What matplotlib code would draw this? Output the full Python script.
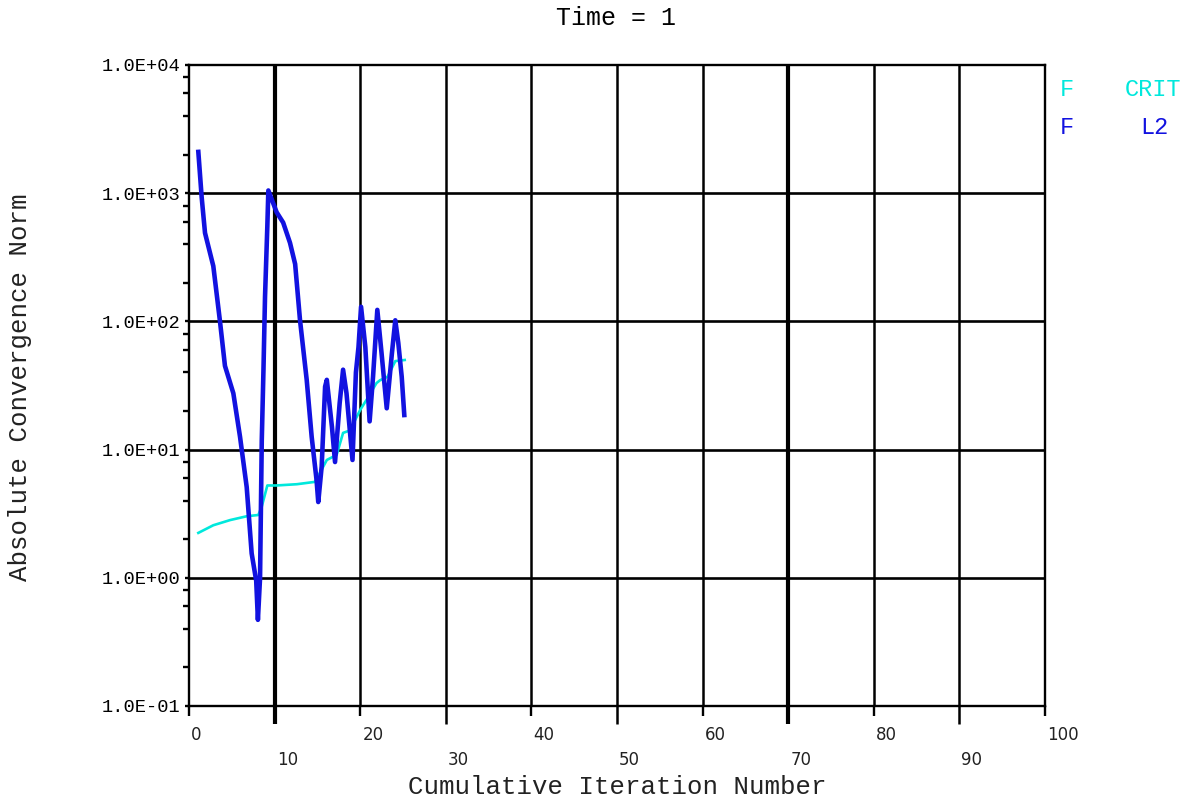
import matplotlib
matplotlib.use("Agg")
import matplotlib.pyplot as plt
from matplotlib.ticker import LogLocator, NullFormatter, FuncFormatter, FixedLocator

# Convergence history: F CRIT and F L2 against cumulative iteration number
crit_iter = [1.09, 2.84, 4.8, 6.74, 8.1, 8.5, 9.15, 10.2, 12.6, 14.7, 15.3, 16.1,
             17.25, 18.0, 18.8, 20.0, 20.75, 21.9, 22.3, 23.2, 24.1, 25.2]
crit_norm = [2.24, 2.57, 2.82, 3.02, 3.09, 3.59, 5.25, 5.25, 5.37, 5.6, 6.6, 8.3,
             9.1, 13.5, 14.1, 20.4, 24.5, 33.0, 34.7, 37.0, 49.0, 50.0]

l2_iter = [1.09, 1.48, 1.87, 2.84, 3.62, 4.2, 5.18, 5.96, 6.74, 7.32, 7.85, 8.05,
           8.3, 8.5, 8.7, 8.88, 9.15, 9.27, 10.24, 11.0, 11.8, 12.4, 12.97, 13.75,
           14.33, 14.9, 15.1, 15.5, 15.9, 16.1, 16.7, 17.06, 17.6, 18.0, 18.4, 19.1,
           19.5, 19.8, 20.1, 20.6, 21.1, 21.5, 22.0, 22.5, 23.1, 23.7, 24.1, 24.45,
           24.85, 25.15]
l2_norm = [2100, 930, 490, 270, 100, 45, 27.5, 12.6, 5.1, 1.55, 0.95, 0.47,
           1.0, 11.7, 42, 155, 550, 1050, 710, 590, 410, 280, 102, 35,
           12.6, 5.8, 3.9, 7.4, 31, 35, 15, 8.0, 23, 42, 27.5, 8.3,
           40, 63, 130, 63, 16.6, 37, 123, 56, 21, 56, 102, 68,
           37, 18.6]

x_ticks = [0, 10, 20, 30, 40, 50, 60, 70, 80, 90, 100]
heavy_x = [10, 70]
y_decades = [0.1, 1, 10, 100, 1000, 10000]

title_text = "Time = 1"
x_title = "Cumulative Iteration Number"
y_title = "Absolute Convergence Norm"
legend_rows = [("F", "CRIT"), ("F", "L2")]

CRIT_COLOR = "#00e8dc"
L2_COLOR = "#1212e0"
MONO = "Liberation Mono"

W, H = 1199, 800
fig = plt.figure(figsize=(W / 100, H / 100), dpi=100)
ax = fig.add_axes([189 / W, 1 - 706 / H, (1045 - 189) / W, (706 - 65) / H])

ax.set_yscale("log")
ax.set_xlim(0, 100)
ax.set_ylim(y_decades[0], y_decades[-1])

for s in ax.spines.values():
    s.set_linewidth(1.7)
    s.set_color("black")

# grid lines, a few of them drawn heavier
for xv in x_ticks[1:-1]:
    lw = 3.0 if xv in heavy_x else 1.8
    ax.axvline(xv, color="black", lw=lw, zorder=1)
for yv in y_decades[1:-1]:
    ax.axhline(yv, color="black", lw=1.9, zorder=1)

ax.plot(crit_iter, crit_norm, color=CRIT_COLOR, lw=1.9, zorder=3)
ax.plot(l2_iter, l2_norm, color=L2_COLOR, lw=3.3, zorder=4)

# y axis ticks
ax.yaxis.set_major_locator(FixedLocator(y_decades))
ax.yaxis.set_minor_locator(LogLocator(base=10, subs=(2, 4, 6, 8)))
ax.yaxis.set_minor_formatter(NullFormatter())
ax.yaxis.set_major_formatter(FuncFormatter(lambda v, p: f"{v:.1E}"))
ax.tick_params(axis="y", which="major", direction="out", length=3, width=1.7,
               pad=3, labelsize=13.5)
ax.tick_params(axis="y", which="minor", direction="out", length=4.5, width=1.7)
for lbl in ax.get_yticklabels():
    lbl.set_fontfamily(MONO)

# x axis ticks: longer ticks at odd tens, shorter at even tens
odd = [v for v in x_ticks if (v // 10) % 2 == 1]
even = [v for v in x_ticks if (v // 10) % 2 == 0]
ax.xaxis.set_major_locator(FixedLocator(odd))
ax.xaxis.set_minor_locator(FixedLocator(even))
ax.xaxis.set_major_formatter(NullFormatter())
ax.xaxis.set_minor_formatter(NullFormatter())
ax.tick_params(axis="x", which="major", direction="out", length=13, width=1.8)
ax.tick_params(axis="x", which="minor", direction="out", length=7.5, width=1.7)
for v, t in zip(odd, ax.xaxis.get_major_ticks()):
    if v in heavy_x:
        t.tick1line.set_markeredgewidth(3.0)

for v in x_ticks:
    dy = -29 if (v // 10) % 2 == 0 else -54
    ax.annotate(str(v), xy=(v, 0), xycoords=("data", "axes fraction"),
                xytext=(1.5, dy * 0.72), textcoords="offset points",
                ha="left", va="center", fontsize=12, family="DejaVu Sans",
                color="#222222", annotation_clip=False)

fig.text(616 / W, 1 - 18 / H, title_text, ha="center", va="center",
         fontsize=18, family=MONO)
fig.text(617 / W, 1 - 787 / H, x_title, ha="center", va="center",
         fontsize=18.5, family=MONO, color="#222222")
fig.text(20 / W, 1 - 387 / H, y_title, ha="center", va="center",
         rotation=90, fontsize=18.5, family=MONO, color="#222222")

legend_colors = [CRIT_COLOR, L2_COLOR]
legend_y = [90, 128]
legend_x2 = [1125, 1140]
for (a, b), c, yy, x2 in zip(legend_rows, legend_colors, legend_y, legend_x2):
    fig.text(1060 / W, 1 - yy / H, a, ha="left", va="center", fontsize=17,
             family=MONO, color=c)
    fig.text(x2 / W, 1 - yy / H, b, ha="left", va="center", fontsize=17,
             family=MONO, color=c)

fig.savefig("out.png", dpi=100)
